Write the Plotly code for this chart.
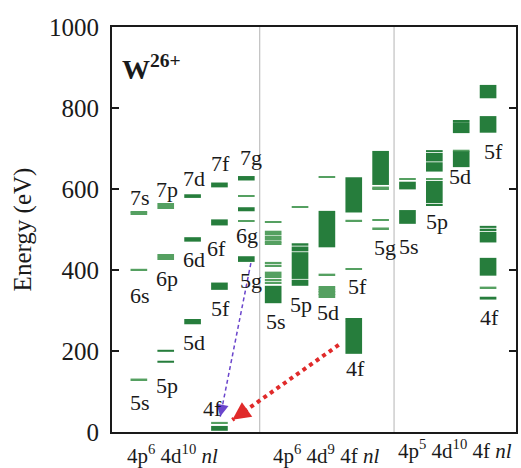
import plotly.graph_objects as go

FONT = "Liberation Serif"
DARK = "#267d3c"
LIGHT = "#55a061"

# Energy levels (eV). A pair [lo, hi] is a band of levels, a single number is a sharp level.
# 4p6 4d10 nl
LV_4d10_s = [130, 401, 540, 543]
LV_4d10_p = [[171, 176], [198, 203], 428, 432, 437, 553, 558, 563]
LV_4d10_d = [[266, 279], [470, 481], [578, 587]]
LV_4d10_f = [[3, 15], 23, [351, 369], [510, 525], [604, 616]]
LV_4d10_g = [[420, 434], 521, [545, 555], 583, [621, 632]]

# 4p6 4d9 4f nl
LV_4d9_s = [[318, 361], 369, 376, 383, 388, 394, 411, 418, 466, 471, 477, 483, 489, 495, 519]
LV_4d9_p = [[361, 376], [378, 444], [446, 458], [460, 466], 556]
LV_4d9_d = [334, 338, 342, 346, 350, 354, 358, 389, [456, 546], 630]
LV_4d9_5f = [403, 522, [542, 629]]
LV_4d9_4f = [[193, 272], [274, 277], [278, 281]]
LV_4d9_g = [503, 523, 601, 604, [610, 694]]

# 4p5 4d10 4f nl
LV_4p5_s = [[514, 548], [599, 618], 625]
LV_4p5_p = [[558, 563], [565, 620], 625, [643, 666], [668, 689], [691, 696]]
LV_4p5_d = [[654, 693], 695, [738, 765], [767, 770]]
LV_4p5_5f = [[739, 780], [824, 852], [854, 857]]
LV_4p5_4f = [[327, 334], 357, [386, 430], [468, 494], [496, 502], [504, 509]]

# column index of each set of levels
COLUMNS = [
    (1, LV_4d10_s), (2, LV_4d10_p), (3, LV_4d10_d), (4, LV_4d10_f), (5, LV_4d10_g),
    (6, LV_4d9_s), (7, LV_4d9_p), (8, LV_4d9_d), (9, LV_4d9_5f), (9, LV_4d9_4f), (10, LV_4d9_g),
    (11, LV_4p5_s), (12, LV_4p5_p), (13, LV_4p5_d), (14, LV_4p5_5f), (14, LV_4p5_4f),
]
GROUP_COLUMNS = [[1, 2, 3, 4, 5], [6, 7, 8, 9, 10], [11, 12, 13, 14]]
GROUP_NAMES = [
    "4p<sup>6</sup> 4d<sup>10</sup> <i>nl</i>",
    "4p<sup>6</sup> 4d<sup>9</sup> 4f <i>nl</i>",
    "4p<sup>5</sup> 4d<sup>10</sup> 4f <i>nl</i>",
]
# horizontal centre (x units) and vertical position (fraction of plot height) of group names
GROUP_NAME_POS = [(2.26, -0.055), (7.96, -0.056), (12.78, -0.042)]

# orbital labels: (text, x position, energy of label centre)
LABELS = [
    ("5s", 1.04, 72), ("6s", 1.04, 338), ("7s", 1.04, 578),
    ("5p", 2.04, 116), ("6p", 2.04, 380), ("7p", 2.04, 598),
    ("5d", 3.04, 220), ("6d", 3.04, 425), ("7d", 3.04, 627),
    ("4f", 3.74, 59), ("5f", 4.04, 306), ("6f", 3.9, 454), ("7f", 4.04, 664),
    ("5g", 5.18, 375), ("6g", 5.03, 484), ("7g", 5.18, 679),
    ("5s", 6.1, 272), ("5p", 7.05, 314), ("5d", 8.04, 295), ("5f", 9.15, 359),
    ("4f", 9.07, 158), ("5g", 10.15, 456),
    ("5s", 11.04, 459), ("5p", 12.1, 519), ("5d", 12.96, 630), ("5f", 14.2, 692),
    ("4f", 14.07, 282),
]

BAR_W = 0.62
SHARP = 4

bx, bbase, bh = [], [], []
lx, lbase, lh = [], [], []
for col, levels in COLUMNS:
    for lv in levels:
        if isinstance(lv, list):
            bx.append(col); bbase.append(lv[0]); bh.append(lv[1] - lv[0])
        else:
            lx.append(col); lbase.append(lv - SHARP / 2); lh.append(SHARP)

fig = go.Figure()
fig.add_trace(go.Bar(x=lx, y=lh, base=lbase, width=BAR_W, marker=dict(color=LIGHT, line_width=0),
                     hoverinfo="skip"))
fig.add_trace(go.Bar(x=bx, y=bh, base=bbase, width=BAR_W, marker=dict(color=DARK, line_width=0),
                     hoverinfo="skip"))

# transitions into the 4f ground level
g5_lo = LV_4d10_g[0][0]
f4_top = LV_4d10_f[1]
f4b_lo = LV_4d9_4f[0][0]
blue_start = (5 + 0.17, g5_lo - 3)
blue_end = (4 + 0.03, f4_top + 15)
red_start = (9 - 0.56, f4b_lo + 22)
red_end = (4 + 0.48, f4_top + 7)

fig.add_trace(go.Scatter(x=[blue_start[0], blue_end[0]], y=[blue_start[1], blue_end[1]], mode="lines",
                         line=dict(color="#6a45cc", width=1.5, dash="4px,3px"), hoverinfo="skip"))
fig.add_trace(go.Scatter(x=[red_start[0], red_end[0]], y=[red_start[1], red_end[1]], mode="lines",
                         line=dict(color="#e02a2a", width=4, dash="dot"), hoverinfo="skip"))

def head_tail(start, end, frac):
    return (end[0] + (start[0] - end[0]) * frac, end[1] + (start[1] - end[1]) * frac)

bt = head_tail(blue_start, blue_end, 0.08)
rt = head_tail(red_start, red_end, 0.12)
fig.add_annotation(x=blue_end[0], y=blue_end[1], ax=bt[0], ay=bt[1], axref="x", ayref="y",
                   text="", showarrow=True, arrowhead=2, arrowsize=1.6, arrowwidth=1.5,
                   arrowcolor="#6a45cc", standoff=0)
fig.add_annotation(x=red_end[0], y=red_end[1], ax=rt[0], ay=rt[1], axref="x", ayref="y",
                   text="", showarrow=True, arrowhead=2, arrowsize=1.2, arrowwidth=3,
                   arrowcolor="#e02a2a", standoff=0)

for txt, x, y in LABELS:
    fig.add_annotation(x=x, y=y, text=txt, showarrow=False, xanchor="center", yanchor="middle",
                       borderpad=0, font=dict(family=FONT, size=22, color="#1a1a1a"))

for name, (gx, gy) in zip(GROUP_NAMES, GROUP_NAME_POS):
    fig.add_annotation(x=gx, y=gy, xref="x", yref="paper", text=name, showarrow=False,
                       xanchor="center", yanchor="middle", borderpad=0,
                       font=dict(family=FONT, size=21, color="#1a1a1a"))

fig.add_annotation(x=0.3, y=901, text="W<sup>26+</sup>", showarrow=False, xanchor="left",
                   yanchor="middle", font=dict(family=FONT, size=28, color="#1a1a1a", weight="bold"))

# separators between configuration groups
for left, right in zip(GROUP_COLUMNS[:-1], GROUP_COLUMNS[1:]):
    xs = (left[-1] + right[0]) / 2
    fig.add_shape(type="line", x0=xs, x1=xs, y0=0, y1=1, xref="x", yref="paper",
                  line=dict(color="#b4b4b4", width=1), layer="below")

fig.update_layout(
    width=521, height=468,
    margin=dict(l=112, r=3, t=27, b=36),
    paper_bgcolor="white", plot_bgcolor="white",
    barmode="overlay", showlegend=False,
    font=dict(family=FONT, color="#1a1a1a"),
)
fig.update_xaxes(range=[0, 15.04], showgrid=False, zeroline=False, showticklabels=False, ticks="",
                 showline=True, linecolor="#1a1a1a", linewidth=2, mirror=True)
fig.update_yaxes(range=[0, 1000], tickvals=[0, 200, 400, 600, 800, 1000], showgrid=False,
                 zeroline=False, ticks="inside", ticklen=7, tickwidth=1.5, tickcolor="#1a1a1a",
                 showline=True, linecolor="#1a1a1a", linewidth=2, mirror="ticks",
                 ticklabelstandoff=6,
                 tickfont=dict(family=FONT, size=25, color="#1a1a1a"),
                 title=dict(text="Energy (eV)", font=dict(family=FONT, size=25, color="#1a1a1a"),
                            standoff=10))

fig.write_html("out.html")
